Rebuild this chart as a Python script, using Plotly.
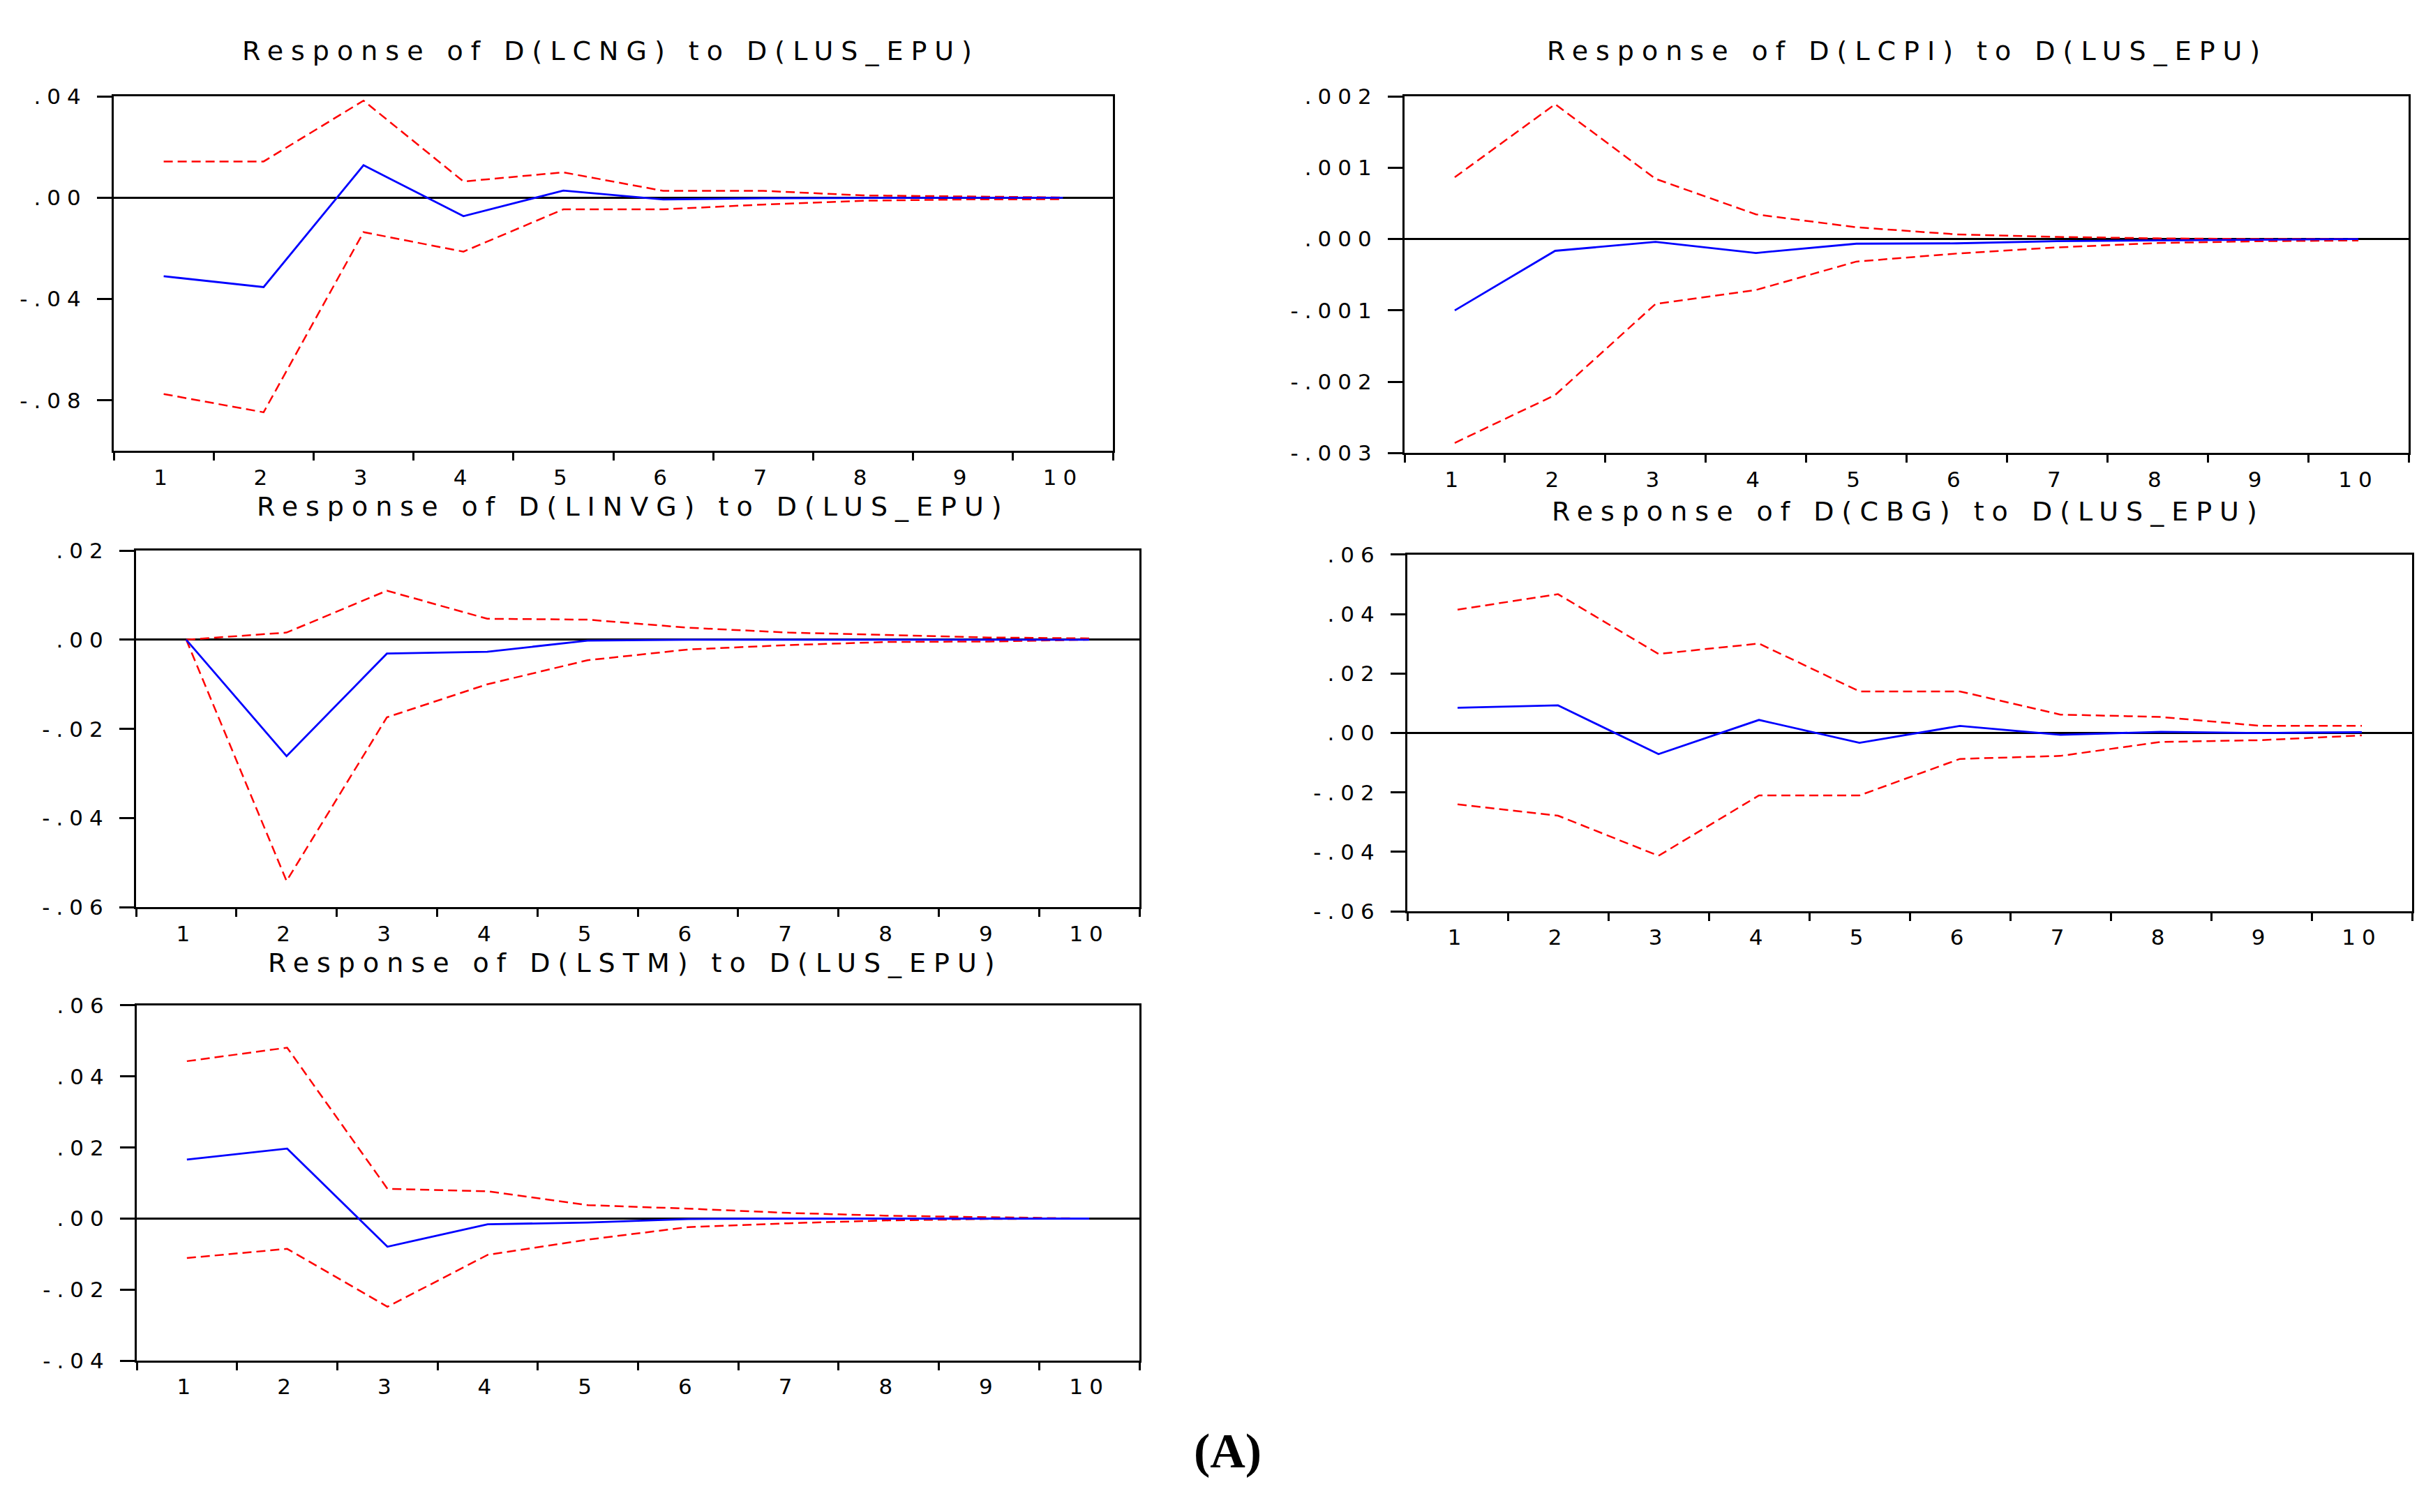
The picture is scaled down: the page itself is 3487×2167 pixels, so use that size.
import plotly.graph_objects as go

periods = list(range(1, 11))
x_labels = [str(p) for p in periods]

# Response of D(LCNG)
lcng_resp = [-0.0310, -0.0353, 0.0128, -0.0073, 0.0028, -0.0007, -0.0002, 0.0, 0.0, 0.0]
lcng_upper = [0.0143, 0.0143, 0.0383, 0.0064, 0.0100, 0.0027, 0.0027, 0.0009, 0.0005, 0.0001]
lcng_lower = [-0.0775, -0.0847, -0.0136, -0.0213, -0.0046, -0.0046, -0.0027, -0.0012, -0.0007, -0.0006]

# Response of D(LCPI)
lcpi_resp = [-0.00100, -0.000165, -0.00004, -0.000195, -0.000065, -0.000060, -0.00003, -0.00002, -0.00001, 0.0]
lcpi_upper = [0.000866, 0.00189, 0.000844, 0.000346, 0.000165, 0.000065, 0.00003, 0.00001, 0.0, 0.0]
lcpi_lower = [-0.002857, -0.002186, -0.000909, -0.000714, -0.000316, -0.000203, -0.000117, -0.000056, -0.00003, -0.00002]

# Response of D(LINVG)
linvg_resp = [0.0, -0.0261, -0.0031, -0.0027, -0.0002, 0.0, 0.0, 0.0, 0.0, 0.0]
linvg_upper = [0.0, 0.0016, 0.0110, 0.0047, 0.0045, 0.0027, 0.0016, 0.0010, 0.0005, 0.0003]
linvg_lower = [0.0, -0.0541, -0.0174, -0.0100, -0.0046, -0.0022, -0.0012, -0.0005, -0.0004, 0.0]

# Response of D(CBG)
cbg_resp = [0.0085, 0.0093, -0.0071, 0.0044, -0.0033, 0.0024, -0.0006, 0.0004, 0.0, 0.0003]
cbg_upper = [0.0415, 0.0467, 0.0266, 0.0301, 0.0140, 0.0140, 0.0062, 0.0054, 0.0024, 0.0024]
cbg_lower = [-0.0240, -0.0278, -0.0413, -0.0210, -0.0210, -0.0087, -0.0077, -0.0030, -0.0024, -0.0008]

# Response of D(LSTM)
lstm_resp = [0.0166, 0.0197, -0.0079, -0.0016, -0.0011, -0.0001, 0.0, 0.0, 0.0, 0.0]
lstm_upper = [0.0443, 0.0481, 0.0084, 0.0077, 0.0038, 0.0028, 0.0016, 0.0008, 0.0004, 0.0]
lstm_lower = [-0.0111, -0.0085, -0.0248, -0.0102, -0.0059, -0.0024, -0.0013, -0.0005, -0.0001, 0.0]

titles = [
    "Response of D(LCNG) to D(LUS_EPU)",
    "Response of D(LCPI) to D(LUS_EPU)",
    "Response of D(LINVG) to D(LUS_EPU)",
    "Response of D(CBG) to D(LUS_EPU)",
    "Response of D(LSTM) to D(LUS_EPU)",
]

lcng_ticks = [-0.08, -0.04, 0.0, 0.04]
lcng_ticktext = ["-.08", "-.04", ".00", ".04"]
lcpi_ticks = [-0.003, -0.002, -0.001, 0.0, 0.001, 0.002]
lcpi_ticktext = ["-.003", "-.002", "-.001", ".000", ".001", ".002"]
linvg_ticks = [-0.06, -0.04, -0.02, 0.0, 0.02]
linvg_ticktext = ["-.06", "-.04", "-.02", ".00", ".02"]
cbg_ticks = [-0.06, -0.04, -0.02, 0.0, 0.02, 0.04, 0.06]
cbg_ticktext = ["-.06", "-.04", "-.02", ".00", ".02", ".04", ".06"]
lstm_ticks = [-0.04, -0.02, 0.0, 0.02, 0.04, 0.06]
lstm_ticktext = ["-.04", "-.02", ".00", ".02", ".04", ".06"]

caption = "(A)"

# ---- page geometry (pixel boxes in the 3487x2167 window) ----
WIN_W, WIN_H = 3487, 2167
BODY = 8  # default browser body margin
FIG_W, FIG_H = WIN_W - 2 * BODY, WIN_H - 2 * BODY


def px_x(x):
    return (x - BODY) / FIG_W


def px_y(y):
    return 1 - (y - BODY) / FIG_H


# boxes: (left, right, top, bottom) and title centre (x, y)
panels = [
    dict(resp=lcng_resp, up=lcng_upper, lo=lcng_lower, title=titles[0],
         tv=lcng_ticks, tt=lcng_ticktext, yr=[-0.10, 0.04],
         box=(163, 1595, 122, 639), tpos=(875, 56)),
    dict(resp=lcpi_resp, up=lcpi_upper, lo=lcpi_lower, title=titles[1],
         tv=lcpi_ticks, tt=lcpi_ticktext, yr=[-0.003, 0.002],
         box=(2013, 3452, 122, 642), tpos=(2733, 56)),
    dict(resp=linvg_resp, up=linvg_upper, lo=linvg_lower, title=titles[2],
         tv=linvg_ticks, tt=linvg_ticktext, yr=[-0.06, 0.02],
         box=(195, 1633, 784, 1304), tpos=(908, 720)),
    dict(resp=cbg_resp, up=cbg_upper, lo=cbg_lower, title=titles[3],
         tv=cbg_ticks, tt=cbg_ticktext, yr=[-0.06, 0.06],
         box=(2017, 3457, 790, 1310), tpos=(2735, 727)),
    dict(resp=lstm_resp, up=lstm_upper, lo=lstm_lower, title=titles[4],
         tv=lstm_ticks, tt=lstm_ticktext, yr=[-0.04, 0.06],
         box=(196, 1633, 1447, 1965), tpos=(910, 1385)),
]

FONT = "DejaVu Sans, Verdana, sans-serif"
TICK_LS = 9
TITLE_LS = 11


def spaced(txt, ls):
    return '<span style="letter-spacing:%spx">%s</span>' % (ls, txt)


fig = go.Figure()
annotations = []
for i, p in enumerate(panels):
    n = "" if i == 0 else str(i + 1)
    xa, ya = "x" + n, "y" + n
    l, r, t, b = p["box"]
    fig.add_trace(go.Scatter(x=periods, y=p["up"], mode="lines", xaxis=xa, yaxis=ya,
                             line=dict(color="#FF0000", width=2.5, dash="13px,7px"),
                             showlegend=False, hoverinfo="skip"))
    fig.add_trace(go.Scatter(x=periods, y=p["lo"], mode="lines", xaxis=xa, yaxis=ya,
                             line=dict(color="#FF0000", width=2.5, dash="13px,7px"),
                             showlegend=False, hoverinfo="skip"))
    fig.add_trace(go.Scatter(x=periods, y=p["resp"], mode="lines", xaxis=xa, yaxis=ya,
                             line=dict(color="#0000FF", width=2.8),
                             showlegend=False))
    fig.layout["xaxis" + n] = dict(
        domain=[px_x(l), px_x(r)], anchor=ya, range=[0.5, 10.5],
        tickmode="array", tickvals=periods, ticktext=[spaced(tx, TICK_LS) for tx in x_labels],
        ticks="", ticklen=0, ticklabelstandoff=8,
        minor=dict(ticks="outside", ticklen=11, tickwidth=3, tickcolor="black",
                   tickmode="array", tickvals=[v - 0.5 for v in periods] + [10.5]),
        showline=True, linecolor="black", linewidth=3, mirror=True,
        showgrid=False, zeroline=False, fixedrange=True,
        tickfont=dict(family=FONT, size=31, color="black"),
    )
    fig.layout["yaxis" + n] = dict(
        domain=[px_y(b), px_y(t)], anchor=xa, range=p["yr"],
        tickmode="array", tickvals=p["tv"], ticktext=[spaced(tx, TICK_LS) for tx in p["tt"]],
        ticks="outside", ticklen=21, tickwidth=3, tickcolor="black",
        showline=True, linecolor="black", linewidth=3, mirror=True,
        showgrid=False, zeroline=True, zerolinecolor="black", zerolinewidth=3,
        fixedrange=True, ticklabelstandoff=8,
        tickfont=dict(family=FONT, size=31, color="black"),
    )
    annotations.append(dict(text=spaced(p["title"], TITLE_LS), x=px_x(p["tpos"][0]), y=px_y(p["tpos"][1]),
                            xref="paper", yref="paper", xanchor="center", yanchor="middle",
                            showarrow=False, font=dict(family=FONT, size=38, color="black")))

annotations.append(dict(text="<b>" + caption + "</b>", x=px_x(1759), y=px_y(2096), xref="paper", yref="paper",
                        xanchor="center", yanchor="middle", showarrow=False,
                        font=dict(family="Liberation Serif, Times New Roman, serif", size=70, color="black")))

fig.update_layout(
    width=FIG_W, height=FIG_H,
    margin=dict(l=0, r=0, t=0, b=0),
    paper_bgcolor="white", plot_bgcolor="white",
    annotations=annotations,
    showlegend=False,
)

fig.write_html("out.html")
